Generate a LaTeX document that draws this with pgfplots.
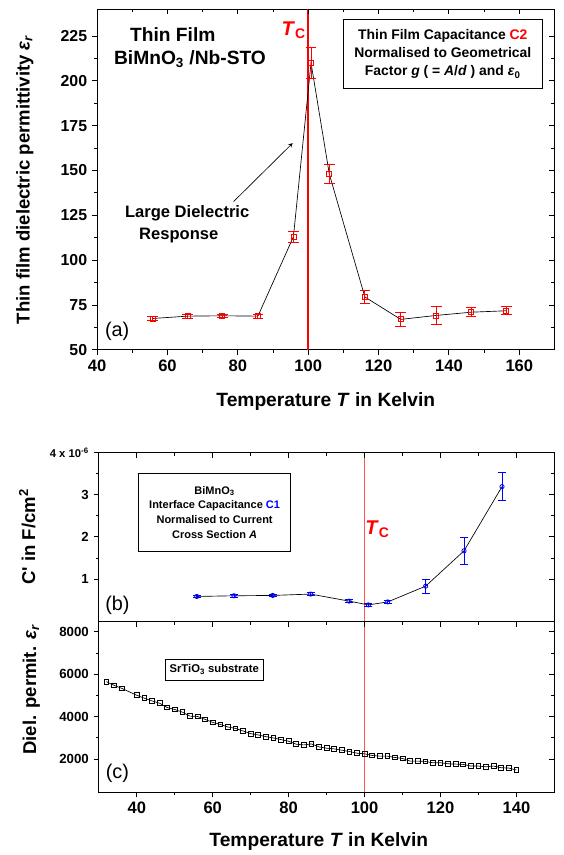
\documentclass[border=0pt]{standalone}
\usepackage{fontspec}
\setmainfont{Liberation Sans}
\usepackage{pgfplots}
\pgfplotsset{compat=1.18}
\definecolor{tcline}{RGB}{255,85,85}

\pgfplotsset{
  panel/.style={scale only axis, anchor=south west, clip=false,
    axis line style={line width=0.7pt}, tick style={black, line width=0.7pt},
    major tick length=4pt, minor tick length=2.4pt,
    /pgf/number format/assume math mode=true, /pgf/number format/1000 sep={}},
  outer/.style={panel, tick align=outside, tick pos=left},
  inner/.style={panel, tick align=inside, tick pos=right,
    xticklabels={}, yticklabels={}, axis line style={draw=none}},
  % geometry of the three panels
  pa/.style={at={(73.3pt,378.75pt)}, width=345.3pt, height=257.25pt,
    xmin=40, xmax=170, ymin=50, ymax=240,
    xtick={40,60,...,160}, minor x tick num=1,
    ytick={50,75,...,225}, minor y tick num=1},
  pb/.style={at={(74.6pt,173.8pt)}, width=343.9pt, height=127.5pt,
    xmin=30, xmax=150, ymin=0, ymax=4,
    xtick={40,60,...,140}, minor x tick num=1,
    ytick={1,2,3,4}, minor y tick num=1},
  pc/.style={at={(74.6pt,45pt)}, width=343.9pt, height=128.8pt,
    xmin=30, xmax=150, ymin=450, ymax=8500,
    xtick={40,60,...,140}, minor x tick num=1,
    ytick={2000,4000,6000,8000}, minor y tick num=1},
}

\begin{document}
\begin{tikzpicture}
\path (0,0) rectangle (420.75pt,641.25pt);

% ---------------- (a) thin film permittivity
\begin{axis}[outer, pa,
  xticklabel style={font=\fontsize{12.5}{14}\selectfont\bfseries},
  yticklabel style={font=\fontsize{12}{14}\selectfont\bfseries},
  xlabel={Temperature \textit{T} in Kelvin},
  ylabel={Thin film dielectric permittivity \textit{ε}\textsubscript{\textit{r}}},
  xlabel style={font=\fontsize{14.5}{16}\selectfont\bfseries,
    at={(axis description cs:0.5,-0.152)}, anchor=center},
  ylabel style={font=\fontsize{14}{16}\selectfont\bfseries,
    at={(axis description cs:-0.158,0.5)}, anchor=center},
]
\addplot[red, line width=1.6pt] coordinates {(100,50) (100,240)};
\addplot[black, line width=0.5pt, mark=square, mark size=1.9pt,
  mark options={red, fill=white, solid, line width=0.6pt},
  error bars/.cd, y dir=both, y explicit,
  error bar style={red, line width=0.6pt},
  error mark options={rotate=90, red, line width=0.6pt, mark size=4pt}]
  table[x index=0, y index=1, y error index=2] {
T e d
55.8 67.5 1
65.7 68.8 1
75.6 69.0 1
85.7 68.8 1
95.8 113.1 3
100.8 210 8.5
106 148 5.3
116.1 79.5 3.5
126.3 67 4
136.4 69.2 4.8
146.3 71 2.5
156.3 71.8 2.3
};
\node[font=\fontsize{14.5}{17}\selectfont\bfseries] at (axis cs:61.5,226) {Thin Film};
\node[font=\fontsize{14.5}{17}\selectfont\bfseries] at (axis cs:66.4,212) {BiMnO\textsubscript{3} /Nb-STO};
\node[red, font=\fontsize{15}{17}\selectfont\bfseries] at (axis cs:95.9,228) {\textit{T}\textsubscript{C}};
\node[draw, line width=0.6pt, minimum width=149.8pt, minimum height=52.6pt, align=center,
  font=\fontsize{10.5}{13.9}\selectfont\bfseries] at (axis cs:138.25,215)
  {Thin Film Capacitance \textcolor{red}{C2}\\Normalised to Geometrical\\
   Factor \textit{g} ( = \textit{A}/\textit{d} ) and \textit{ε}\textsubscript{0}};
\node[font=\fontsize{12.5}{15}\selectfont\bfseries] at (axis cs:65.6,126) {Large Dielectric};
\node[font=\fontsize{12.5}{15}\selectfont\bfseries] at (axis cs:63.2,113.5) {Response};
\draw[-stealth, line width=0.5pt] (axis cs:78.8,132.7) -- (axis cs:95.6,165.3);
\node[font=\fontsize{15}{17}\selectfont] at (axis cs:45.7,60.2) {(a)};
\end{axis}
\begin{axis}[inner, pa]
\end{axis}

% ---------------- (b) interface capacitance
\begin{axis}[outer, pb, xticklabels={},
  yticklabels={1,2,3,{\fontsize{8.5}{10}\selectfont 4 x 10\textsuperscript{-6}}},
  yticklabel style={font=\fontsize{10}{12}\selectfont\bfseries},
  ylabel={C\textquotesingle\ in F/cm\textsuperscript{2}},
  ylabel style={font=\fontsize{14}{16}\selectfont\bfseries,
    at={(axis description cs:-0.157,0.5)}, anchor=center},
]
\addplot[tcline, line width=0.9pt] coordinates {(100,0) (100,4)};
\addplot[black, line width=0.5pt, mark=o, mark size=1.6pt,
  mark options={blue, fill=white, solid, line width=0.6pt},
  error bars/.cd, y dir=both, y explicit,
  error bar style={blue, line width=0.6pt},
  error mark options={rotate=90, blue, line width=0.6pt, mark size=3pt}]
  table[x index=0, y index=1, y error index=2] {
T c d
55.8 0.59 0.03
65.6 0.606 0.03
75.8 0.614 0.03
85.8 0.646 0.03
95.9 0.48 0.03
101 0.39 0.03
106.1 0.46 0.03
116.1 0.835 0.165
126.2 1.67 0.32
136.2 3.19 0.33
};
\node[red, font=\fontsize{15}{17}\selectfont\bfseries] at (axis cs:103.4,2.18) {\textit{T}\textsubscript{C}};
\node[draw, line width=0.6pt, minimum width=114.9pt, minimum height=59.5pt, align=center,
  font=\fontsize{8.3}{11.25}\selectfont\bfseries] at (axis cs:60.5,2.58)
  {BiMnO\textsubscript{3}\\Interface Capacitance \textcolor{blue}{C1}\\
   Normalised to Current\\Cross Section \textit{A}};
\node[font=\fontsize{15}{17}\selectfont] at (axis cs:34.9,0.37) {(b)};
\end{axis}
\begin{axis}[inner, pb]
\end{axis}

% ---------------- (c) SrTiO3 substrate
\begin{axis}[outer, pc,
  xticklabel style={font=\fontsize{12.5}{14}\selectfont\bfseries},
  yticklabel style={font=\fontsize{10}{12}\selectfont\bfseries},
  xlabel={Temperature \textit{T} in Kelvin},
  xlabel style={font=\fontsize{14.5}{16}\selectfont\bfseries,
    at={(axis description cs:0.483,-0.291)}, anchor=center},
  ylabel={Diel. permit. \textit{ε}\textsubscript{\textit{r}}},
  ylabel style={font=\fontsize{14}{16}\selectfont\bfseries,
    at={(axis description cs:-0.148,0.6)}, anchor=center},
]
\addplot[tcline, line width=0.9pt] coordinates {(100,450) (100,8500)};
\addplot[black, line width=0.5pt, mark=square, mark size=1.8pt,
  mark options={black, fill=white, solid, line width=0.6pt}]
  table {
T e
32 5653
34 5482
36 5341
40 5013
42 4873
44 4748
46 4639
48 4436
50 4342
52 4217
54 4030
56 4014
58 3874
60 3733
62 3639
64 3514
66 3452
68 3327
70 3202
72 3140
74 3062
76 2999
78 2921
80 2843
82 2703
84 2671
86 2718
88 2578
90 2515
92 2484
94 2422
96 2359
98 2281
100 2250
102 2172
104 2141
106 2141
108 2078
110 2031
112 1906
114 1906
116 1891
118 1828
120 1828
122 1781
124 1766
126 1750
128 1672
130 1672
132 1641
134 1672
136 1594
138 1578
140 1485
};
\node[draw, line width=0.6pt, minimum width=74.3pt, minimum height=15.75pt, inner sep=1pt,
  font=\fontsize{8.5}{10}\selectfont\bfseries] at (axis cs:60.4,6211) {SrTiO\textsubscript{3} substrate};
\node[font=\fontsize{15}{17}\selectfont] at (axis cs:34.9,1312) {(c)};
\end{axis}
\begin{axis}[inner, pc]
\end{axis}
\end{tikzpicture}
\end{document}
